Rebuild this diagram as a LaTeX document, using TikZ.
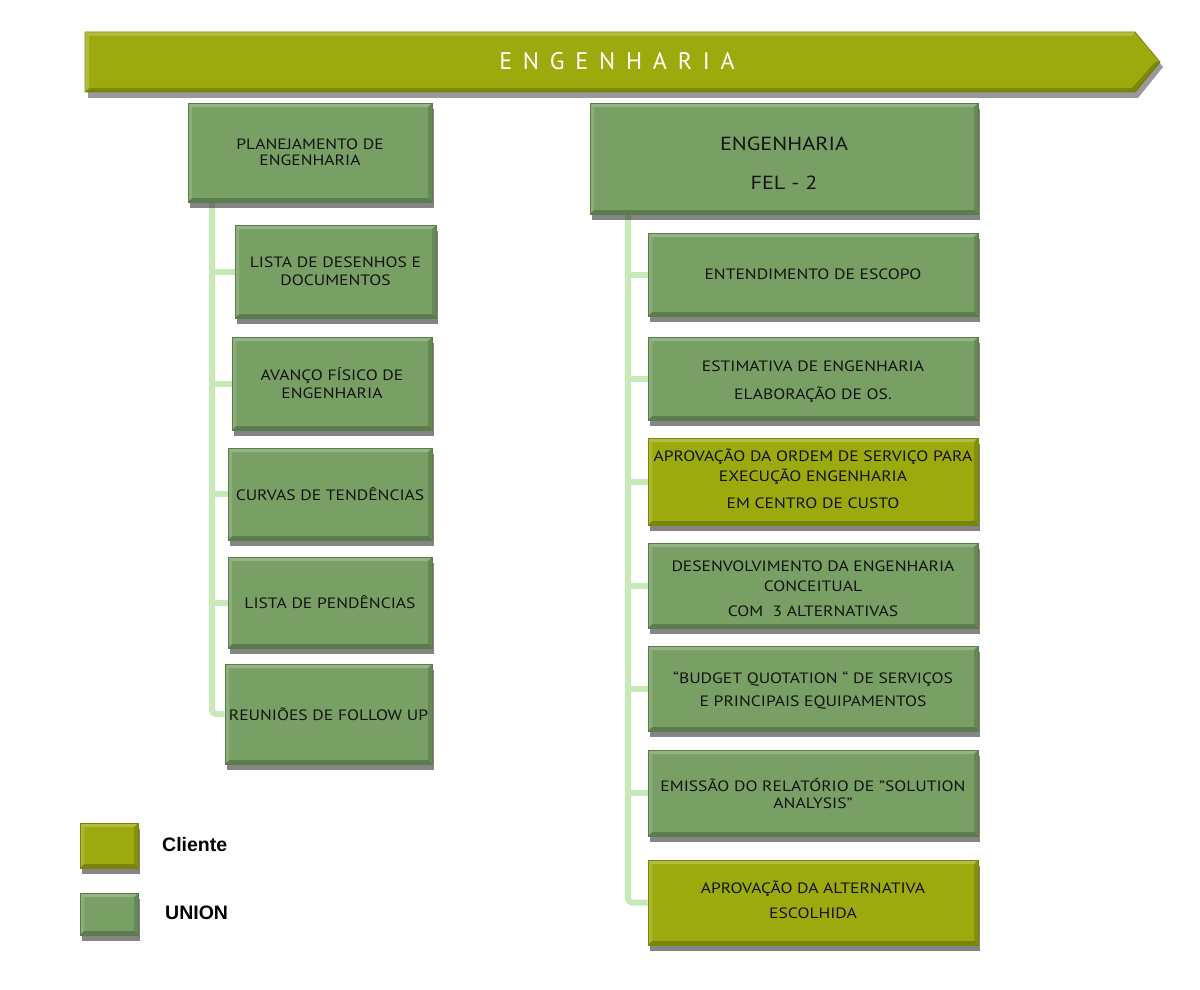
\documentclass[tikz,border=0pt]{standalone}
\usepackage{fontspec}
\setmainfont[FakeStretch=1.17]{PT Sans}
\newfontfamily\legendfont{Liberation Sans}
\newfontfamily\titlefont[LetterSpace=45]{PT Sans}
\usetikzlibrary{shadows}
\definecolor{gfill}{HTML}{78A064}
\definecolor{gborder}{HTML}{5A7C49}
\definecolor{yfill}{HTML}{9DAA0E}
\definecolor{yborder}{HTML}{7A860A}
\definecolor{lgreen}{HTML}{C6E9B8}
\definecolor{textc}{HTML}{141414}
\pgfdeclarelayer{bg}
\pgfsetlayers{bg,main}
\tikzset{
  bevel/.style={path picture={
    \fill[white,opacity=.22] (path picture bounding box.north west) -- (path picture bounding box.north east)
      -- ([xshift=-4pt,yshift=-4pt]path picture bounding box.north east) -- ([xshift=4pt,yshift=-4pt]path picture bounding box.north west) -- cycle;
    \fill[white,opacity=.15] (path picture bounding box.north west) -- ([xshift=4pt,yshift=-4pt]path picture bounding box.north west)
      -- ([xshift=4pt,yshift=4pt]path picture bounding box.south west) -- (path picture bounding box.south west) -- cycle;
    \fill[black,opacity=.22] (path picture bounding box.south west) -- (path picture bounding box.south east)
      -- ([xshift=-4pt,yshift=4pt]path picture bounding box.south east) -- ([xshift=4pt,yshift=4pt]path picture bounding box.south west) -- cycle;
    \fill[black,opacity=.15] (path picture bounding box.north east) -- ([xshift=-4pt,yshift=-4pt]path picture bounding box.north east)
      -- ([xshift=-4pt,yshift=4pt]path picture bounding box.south east) -- (path picture bounding box.south east) -- cycle;
  }},
  gbox/.style={draw=gborder, fill=gfill, line width=0.8pt, inner sep=0pt, align=center,
    font=\fontsize{15}{18}\selectfont, text=textc,
    drop shadow={shadow xshift=2pt, shadow yshift=-6pt, opacity=.6, fill=black!80}, bevel},
  ybox/.style={gbox, fill=yfill, draw=yborder},
  conn/.style={line width=6pt, draw=lgreen, rounded corners=4pt},
  legtext/.style={font=\legendfont\bfseries\fontsize{19.5}{22}\selectfont, anchor=west, inner sep=0pt}
}
\begin{document}
\begin{tikzpicture}[x=1pt,y=-1pt]
\useasboundingbox (0,0) rectangle (1200,990);
% banner
\fill[black,opacity=.4] (88,37) -- (1138,37) -- (1163,67) -- (1138,98) -- (88,98) -- cycle;
\fill[yfill, draw=yborder, line width=0.8pt] (85,32) -- (1135,32) -- (1160,62) -- (1135,92) -- (85,92) -- cycle;
\fill[white,opacity=.2] (85,32) -- (1135,32) -- (1132,36) -- (89,36) -- (89,88) -- (85,92) -- cycle;
\fill[black,opacity=.2] (85,92) -- (1135,92) -- (1160,62) -- (1155,62) -- (1132,88) -- (89,88) -- cycle;
\node[text=white, font=\titlefont\fontsize{24}{27}\selectfont] (title) at (617,61) {ENGENHARIA};

% left column
\node[gbox, minimum width=244pt, minimum height=99pt] (P0) at (310,152.5) {PLANEJAMENTO DE\\[-2pt]ENGENHARIA};
\node[gbox, minimum width=201pt, minimum height=93pt] (L1) at (335.5,271.5) {LISTA DE DESENHOS E\\DOCUMENTOS};
\node[gbox, minimum width=200pt, minimum height=93pt] (L2) at (332,383.5) {AVANÇO FÍSICO DE\\ENGENHARIA};
\node[gbox, minimum width=204pt, minimum height=92pt] (L3) at (330,494) {CURVAS DE TENDÊNCIAS};
\node[gbox, minimum width=204pt, minimum height=91pt] (L4) at (330,602.5) {LISTA DE PENDÊNCIAS};
\node[gbox, minimum width=207pt, minimum height=100pt] (L5) at (328.5,714) {REUNIÕES DE FOLLOW UP};

% right column
\node[gbox, minimum width=388pt, minimum height=111pt, font=\fontsize{19}{23}\selectfont] (R0) at (784,158.5) {\mbox{}\\[0pt]ENGENHARIA\\[16pt]FEL - 2};
\node[gbox, minimum width=330pt, minimum height=83pt] (R1) at (813,274.5) {ENTENDIMENTO DE ESCOPO};
\node[gbox, minimum width=330pt, minimum height=83pt] (R2) at (813,378.5) {\mbox{}\\[-1pt]ESTIMATIVA DE ENGENHARIA\\[10pt]ELABORAÇÃO DE OS.};
\node[ybox, minimum width=330pt, minimum height=87pt] (R3) at (813,481.5) {APROVAÇÃO DA ORDEM DE SERVIÇO PARA\\[2pt]EXECUÇÃO ENGENHARIA\\[9pt]EM CENTRO DE CUSTO\\[-12pt]\mbox{}};
\node[gbox, minimum width=330pt, minimum height=85pt] (R4) at (813,585.5) {\mbox{}\\[-1pt]DESENVOLVIMENTO DA ENGENHARIA\\[2pt]CONCEITUAL\\[7pt]COM \ 3 ALTERNATIVAS};
\node[gbox, minimum width=330pt, minimum height=85pt] (R5) at (813,688.5) {\mbox{}\\[-3pt]“BUDGET QUOTATION “ DE SERVIÇOS\\[5pt]E PRINCIPAIS EQUIPAMENTOS};
\node[gbox, minimum width=330pt, minimum height=86pt] (R6) at (813,793) {\mbox{}\\[-3pt]EMISSÃO DO RELATÓRIO DE "SOLUTION\\[-1pt]ANALYSIS"};
\node[ybox, minimum width=330pt, minimum height=85pt] (R7) at (813,902.5) {APROVAÇÃO DA ALTERNATIVA\\[7pt]ESCOLHIDA\\[-12pt]\mbox{}};

% connectors
\coordinate (lt) at (212,202);
\coordinate (rt) at (628,214);
\begin{pgfonlayer}{bg}
\draw[conn] (lt) |- (L5.west);
\foreach \n in {L1,L2,L3,L4} \draw[conn] (lt |- \n.west) -- (\n.west);
\draw[conn] (rt) |- (R7.west);
\foreach \n in {R1,R2,R3,R4,R5,R6} \draw[conn] (rt |- \n.west) -- (\n.west);
\end{pgfonlayer}

% legend
\node[ybox, minimum width=58pt, minimum height=45pt] (kc) at (109,845.5) {};
\node[gbox, minimum width=58pt, minimum height=42pt] (ku) at (109,914) {};
\node[legtext] (kct) at (162,845) {Cliente};
\node[legtext] (kut) at (165,913) {UNION};
\end{tikzpicture}
\end{document}
